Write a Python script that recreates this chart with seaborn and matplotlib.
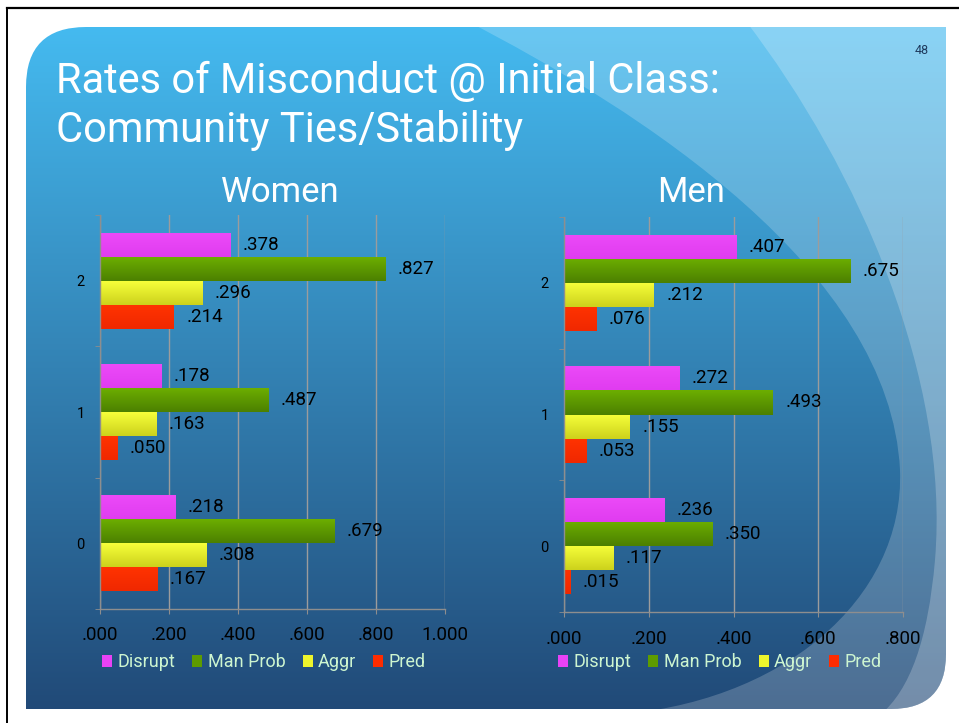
import numpy as np
import pandas as pd
import matplotlib
matplotlib.use("Agg")
import matplotlib.pyplot as plt
import seaborn as sns
from matplotlib.path import Path
from matplotlib.patches import PathPatch

# data (category rows top to bottom: 2, 1, 0)
categories = ["2", "1", "0"]
series = ["Disrupt", "Man Prob", "Aggr", "Pred"]

women_disrupt = [0.378, 0.178, 0.218]
women_manprob = [0.827, 0.487, 0.679]
women_aggr = [0.296, 0.163, 0.308]
women_pred = [0.214, 0.050, 0.167]

men_disrupt = [0.407, 0.272, 0.236]
men_manprob = [0.675, 0.493, 0.350]
men_aggr = [0.212, 0.155, 0.117]
men_pred = [0.076, 0.053, 0.015]

women_ticks = [0.0, 0.2, 0.4, 0.6, 0.8, 1.0]
men_ticks = [0.0, 0.2, 0.4, 0.6, 0.8]

colors = {"Disrupt": "#E842F6", "Man Prob": "#5E9C00", "Aggr": "#EEF52C", "Pred": "#FF2C00"}
# top / bottom shades for the gradient fill on bars
shades = {
    "Disrupt": ("#EC4AF8", "#E03CF0"),
    "Man Prob": ("#6CAE00", "#4C8000"),
    "Aggr": ("#F6FF3A", "#CDD21C"),
    "Pred": ("#FF3300", "#F02800"),
}


def long_frame(d, m, a, p):
    rows = []
    for name, vals in zip(series, [d, m, a, p]):
        for c, v in zip(categories, vals):
            rows.append({"cat": c, "series": name, "value": v})
    return pd.DataFrame(rows)


women = long_frame(women_disrupt, women_manprob, women_aggr, women_pred)
men = long_frame(men_disrupt, men_manprob, men_aggr, men_pred)

plt.rcParams["font.family"] = ["Roboto", "DejaVu Sans"]

W, H = 959, 723
fig = plt.figure(figsize=(W / 100, H / 100), dpi=100)
fig.patch.set_facecolor("white")


def fx(x):
    return x / W


def fy(y):
    return 1 - y / H


# ---- slide background ----
bg = fig.add_axes([0, 0, 1, 1], zorder=-5)
bg.set_xlim(0, W)
bg.set_ylim(H, 0)
bg.axis("off")

L, R, T, B = 26, 946, 27, 709
r1, r2 = 60, 55
verts = [(L + r1, T), (R, T), (R, B - r2), (R, B), (R - r2, B), (L, B), (L, T + r1), (L, T), (L + r1, T)]
codes = [Path.MOVETO, Path.LINETO, Path.LINETO, Path.CURVE3, Path.CURVE3, Path.LINETO,
         Path.LINETO, Path.CURVE3, Path.CURVE3]
slide = PathPatch(Path(verts, codes), facecolor="none", edgecolor="none")
bg.add_patch(slide)

top_c = np.array([0.27, 0.73, 0.94])
bot_c = np.array([0.13, 0.29, 0.47])
g = np.linspace(0, 1, 256)[:, None, None]
grad = (1 - g) * top_c + g * bot_c
im = bg.imshow(grad, extent=(L, R, B, T), aspect="auto", interpolation="bilinear")
im.set_clip_path(slide)

swoosh1 = Path([(465, 20), (640, 110), (890, 270), (900, 470), (905, 600), (780, 705), (610, 715),
                (960, 715), (960, 20), (465, 20)],
               [Path.MOVETO, Path.CURVE4, Path.CURVE4, Path.CURVE4, Path.CURVE4, Path.CURVE4, Path.CURVE4,
                Path.LINETO, Path.LINETO, Path.CLOSEPOLY])
swoosh2 = Path([(745, 20), (860, 170), (950, 380), (935, 560), (928, 640), (910, 690), (880, 715),
                (960, 715), (960, 20), (745, 20)],
               [Path.MOVETO, Path.CURVE4, Path.CURVE4, Path.CURVE4, Path.CURVE4, Path.CURVE4, Path.CURVE4,
                Path.LINETO, Path.LINETO, Path.CLOSEPOLY])
for pth, al in [(swoosh1, 0.2), (swoosh2, 0.22)]:
    pp = PathPatch(pth, facecolor="white", edgecolor="none", alpha=al)
    bg.add_patch(pp)
    pp.set_clip_path(slide)

bg.plot([7, W], [8, 8], color="black", lw=1.6)
bg.plot([7, 7], [8, H], color="black", lw=1.4)

# ---- titles ----
fig.text(fx(56), fy(93), "Rates of Misconduct @ Initial Class:", color="white", fontsize=30, va="baseline")
fig.text(fx(56), fy(142), "Community Ties/Stability", color="white", fontsize=30, va="baseline")
fig.text(fx(280), fy(202), "Women", color="white", fontsize=25, ha="center", va="baseline")
fig.text(fx(691), fy(202), "Men", color="white", fontsize=25, ha="center", va="baseline")
fig.text(fx(922), fy(50), "48", color="#1F3B5E", fontsize=9, ha="center", va="center")


def shade_bars(ax, container, top, bottom):
    t = np.array(matplotlib.colors.to_rgb(top))
    b = np.array(matplotlib.colors.to_rgb(bottom))
    gg = np.linspace(0, 1, 32)[:, None, None]
    img = (1 - gg) * t + gg * b
    for p in container.patches:
        x0, y0 = p.get_x(), p.get_y()
        w, h = p.get_width(), p.get_height()
        bi = ax.imshow(img, extent=(x0, x0 + w, y0 + h, y0), aspect="auto",
                       interpolation="bilinear", zorder=p.get_zorder() + 0.1)
        bi.set_clip_path(p)


def draw_panel(rect, df, xmax, ticks, leg_xy):
    ax = fig.add_axes(rect)
    ax.patch.set_alpha(0)
    sns.barplot(data=df, y="cat", x="value", hue="series", order=categories, hue_order=series,
                palette=colors, orient="h", width=0.73, gap=0, saturation=1, ax=ax)
    handles, labels = ax.get_legend_handles_labels()
    for cont, name in zip(ax.containers, series):
        shade_bars(ax, cont, *shades[name])
        ax.bar_label(cont, labels=[f"{v:.3f}".lstrip("0") for v in cont.datavalues],
                     padding=9, fontsize=13.5, color="black")
    ax.set_xlim(0, xmax)
    ax.set_ylim(2.5, -0.5)
    ax.set_xticks(ticks)
    ax.set_xticklabels([f"{t:.3f}".lstrip("0") if t < 1 else f"{t:.3f}" for t in ticks])
    ax.set_yticks([-0.5, 0.5, 1.5, 2.5], minor=True)
    ax.set_xlabel("")
    ax.set_ylabel("")
    ax.xaxis.grid(True, color="#9C9C9C", lw=1)
    ax.set_axisbelow(True)
    for s in ["top", "right"]:
        ax.spines[s].set_visible(False)
    for s in ["left", "bottom"]:
        ax.spines[s].set_color("#8E8E8E")
        ax.spines[s].set_linewidth(1)
    ax.tick_params(axis="x", length=3.6, color="#8E8E8E", pad=9, labelsize=13.5, labelcolor="black")
    ax.tick_params(axis="y", which="major", length=0, pad=11, labelsize=10.5, labelcolor="black")
    ax.tick_params(axis="y", which="minor", length=3.6, color="#8E8E8E")
    ax.legend(handles, labels, loc="center", bbox_to_anchor=leg_xy, ncol=4, frameon=False,
              fontsize=13, labelcolor="#CDF5D0", handlelength=0.55, handleheight=0.65,
              handletextpad=0.3, columnspacing=0.95, borderpad=0)
    return ax


draw_panel([fx(100), fy(609), 345 / W, 394 / H], women, 1.0, women_ticks, (0.475, -0.135))
draw_panel([fx(564), fy(612), 339 / W, 395 / H], men, 0.8, men_ticks, (0.46, -0.127))

fig.savefig("out.png", dpi=100)
